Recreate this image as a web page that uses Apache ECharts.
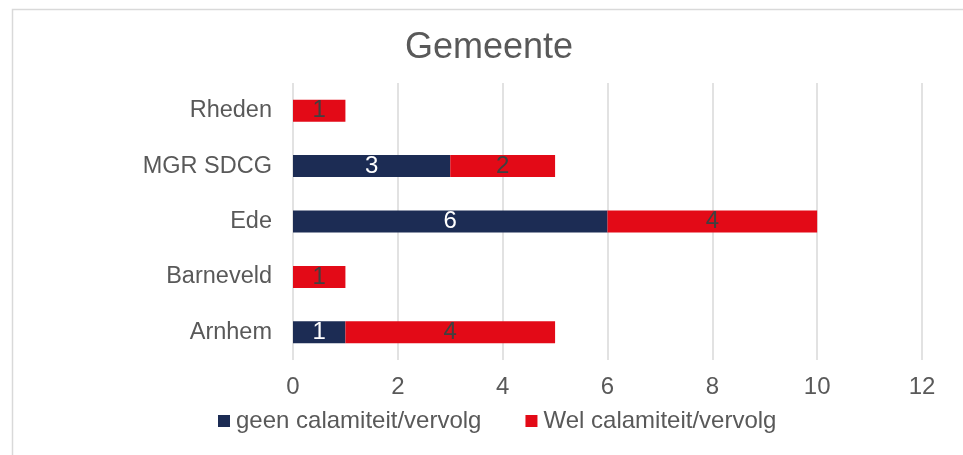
<!DOCTYPE html>
<html>
<head>
<meta charset="utf-8">
<script src="https://cdn.jsdelivr.net/npm/echarts@6/dist/echarts.min.js"></script>
<style>
  html, body { margin: 0; padding: 0; background: #fff; }
  #main { width: 963px; height: 455px; }
</style>
</head>
<body>
<div id="main"></div>
<script>
// data, bottom to top as drawn
const categories = ['Arnhem', 'Barneveld', 'Ede', 'MGR SDCG', 'Rheden'];
const geenValues = [1, 0, 6, 3, 0];
const welValues = [4, 1, 4, 2, 1];
const seriesNames = ['geen calamiteit/vervolg', 'Wel calamiteit/vervolg'];

const chart = echarts.init(document.getElementById('main'));
const fontFamily = 'Liberation Sans, Arial, sans-serif';

// hide labels for empty segments
function labelFormatter(p) {
  return p.value ? String(p.value) : '';
}

chart.setOption({
  animation: false,
  textStyle: { fontFamily: fontFamily },
  graphic: [{
    type: 'rect',
    left: 10,
    top: 7,
    shape: { width: 980, height: 470 },
    style: { fill: 'none', stroke: '#d9d9d9', lineWidth: 1.5 },
    silent: true
  }],
  title: {
    text: 'Gemeente',
    left: 400,
    top: 25,
    textStyle: { fontFamily: fontFamily, fontSize: 36, fontWeight: 'normal', color: '#595959' }
  },
  legend: {
    bottom: 17,
    left: 213,
    itemWidth: 12,
    itemHeight: 12,
    itemGap: 44,
    icon: 'rect',
    textStyle: { fontFamily: fontFamily, fontSize: 24, color: '#595959', padding: [0, 0, 0, 1] },
    data: seriesNames
  },
  grid: { left: 293, right: 41, top: 83, bottom: 95 },
  xAxis: {
    type: 'value',
    min: 0,
    max: 12,
    interval: 2,
    axisLine: { show: false },
    axisTick: { show: false },
    axisLabel: { fontSize: 24, color: '#595959', margin: 15 },
    splitLine: { lineStyle: { color: '#d9d9d9', width: 1.5 } }
  },
  yAxis: {
    type: 'category',
    data: categories,
    axisLine: { show: false },
    axisTick: { show: false },
    axisLabel: { fontSize: 23.5, color: '#595959', margin: 21 }
  },
  series: [
    {
      name: seriesNames[0],
      type: 'bar',
      stack: 'total',
      barWidth: 22,
      data: geenValues,
      itemStyle: { color: '#1c2c54' },
      label: { show: true, position: 'inside', formatter: labelFormatter, fontSize: 24, color: '#ffffff' }
    },
    {
      name: seriesNames[1],
      type: 'bar',
      stack: 'total',
      barWidth: 22,
      data: welValues,
      itemStyle: { color: '#e30a17' },
      label: { show: true, position: 'inside', formatter: labelFormatter, fontSize: 24, color: '#404040' }
    }
  ]
});
</script>
</body>
</html>
